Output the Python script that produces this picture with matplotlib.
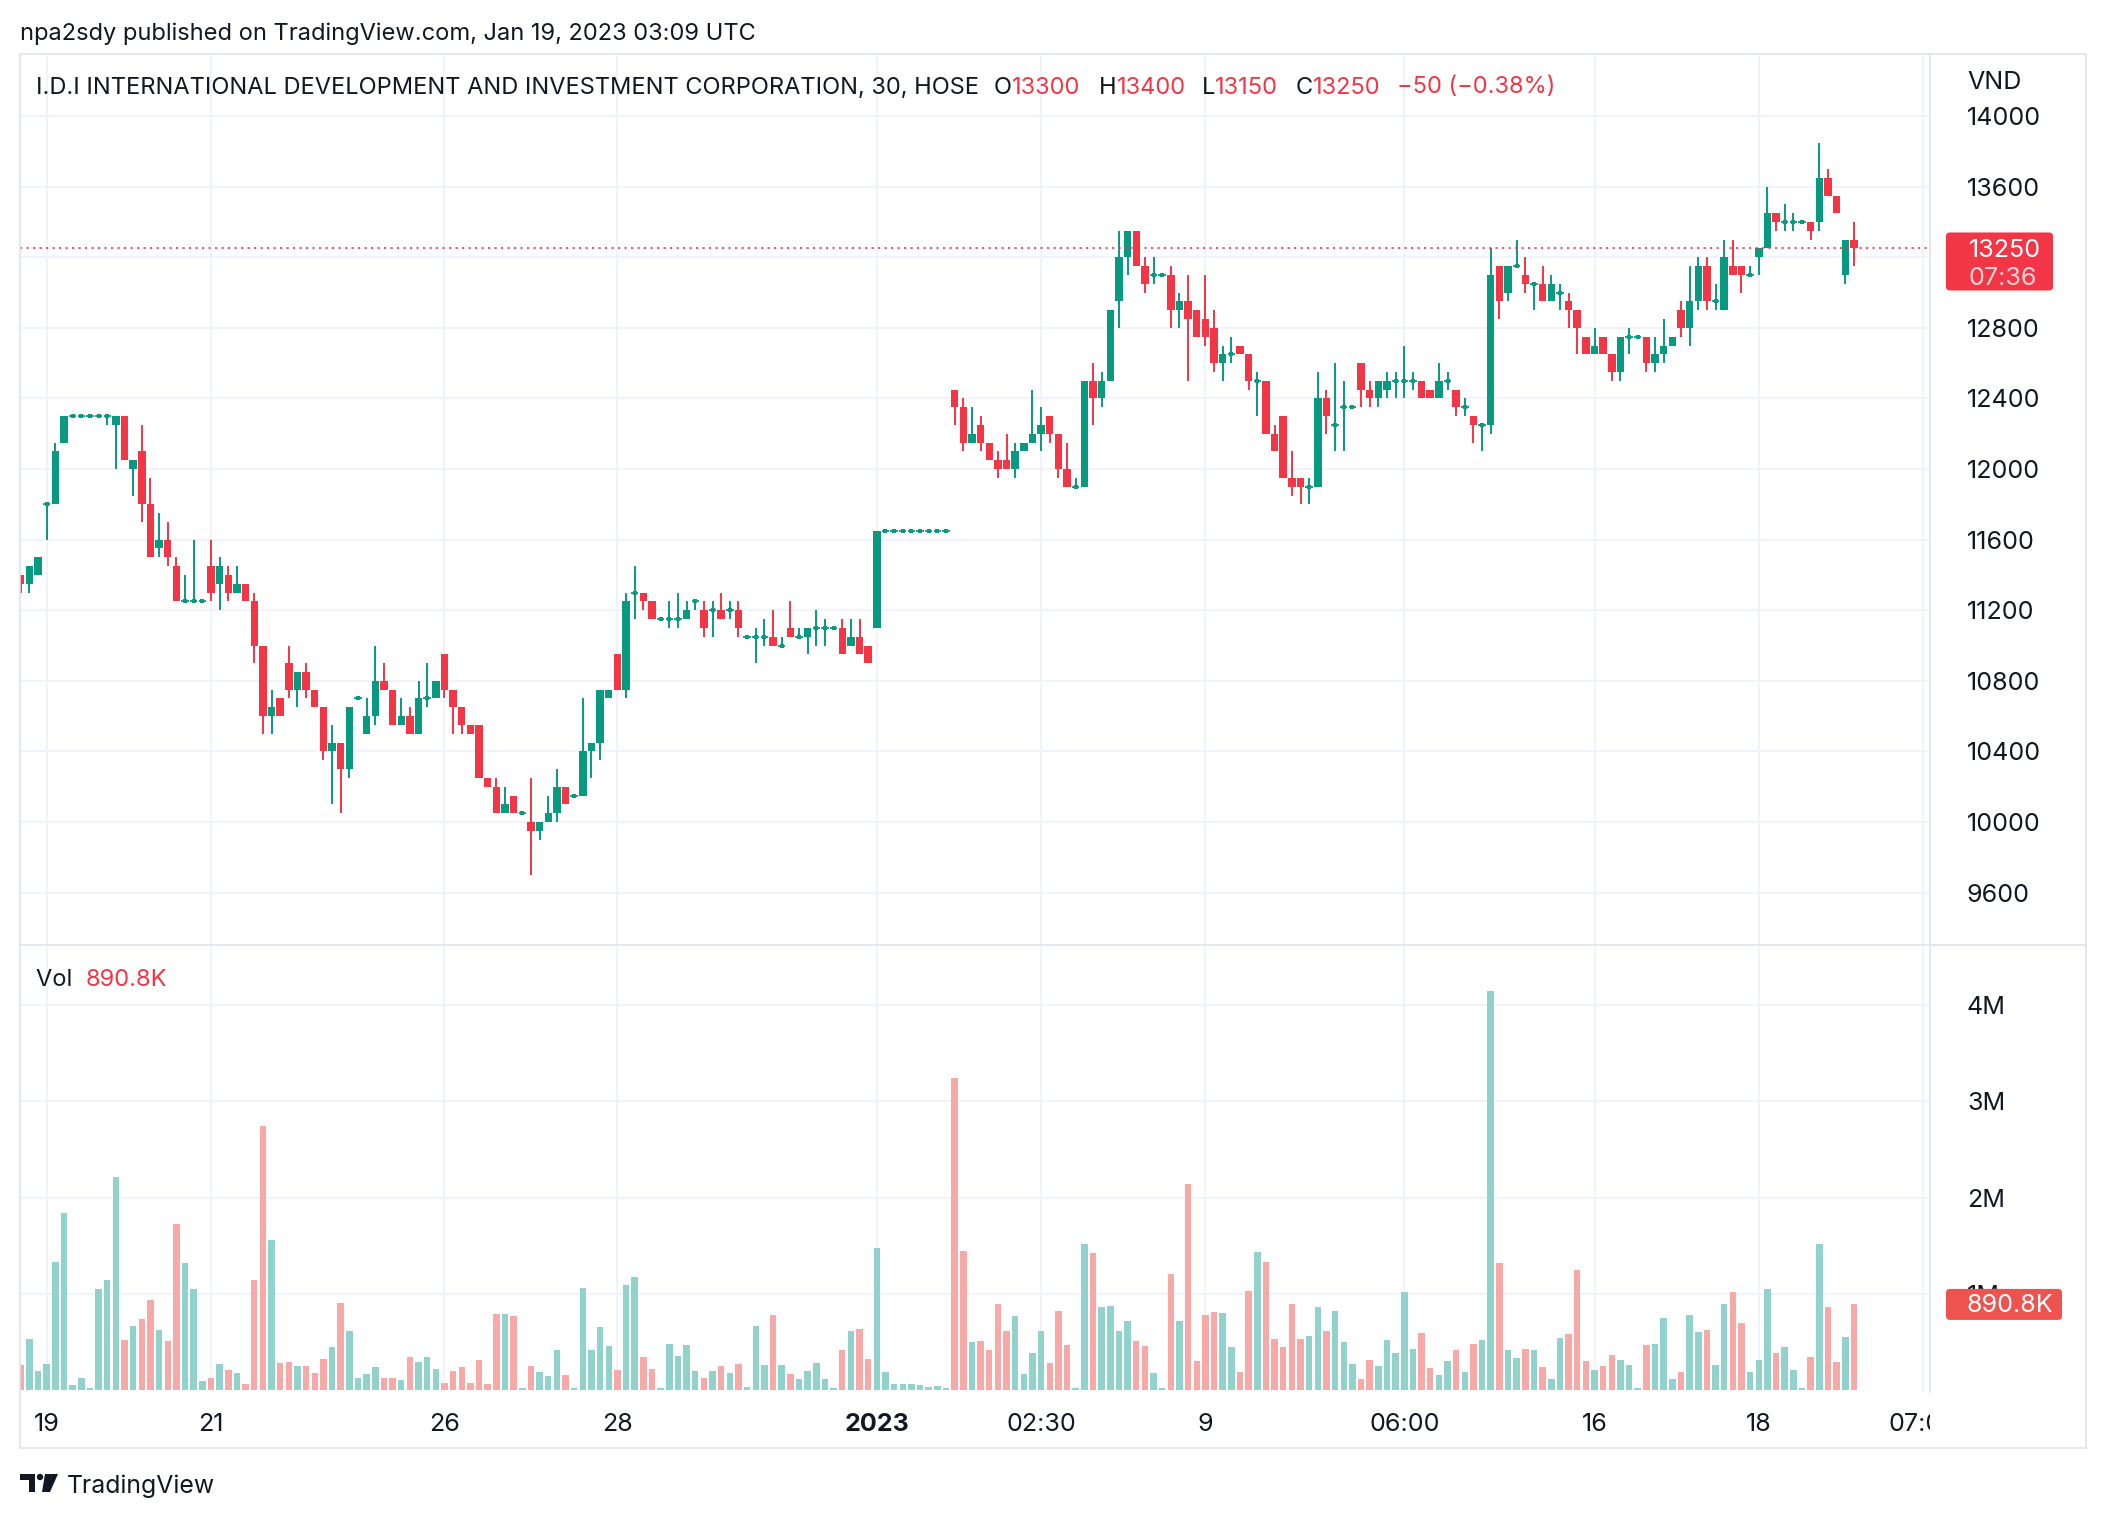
import numpy as np
import matplotlib
matplotlib.use("Agg")
import matplotlib.pyplot as plt
import matplotlib.transforms as mtransforms
from matplotlib.patches import Rectangle, FancyBboxPatch, Polygon, Circle

plt.rcParams['font.family'] = ['Inter', 'DejaVu Sans']

# 30-minute bars, prices in VND
opens = [
    11400, 11350, 11400, 11800, 11800, 12150, 12300, 12300, 12300, 12300,
    12300, 12250, 12300, 12000, 12100, 11800, 11550, 11600, 11450, 11250,
    11250, 11250, 11450, 11350, 11400, 11300, 11350, 11250, 11000, 10600,
    10700, 10900, 10750, 10850, 10750, 10650, 10400, 10450, 10300, 10700,
    10500, 10600, 10800, 10750, 10550, 10600, 10500, 10700, 10700, 10950,
    10750, 10650, 10550, 10550, 10250, 10200, 10050, 10150, 10050, 10000,
    9950, 10000, 10050, 10200, 10150, 10150, 10400, 10450, 10700, 10950,
    10750, 11300, 11300, 11250, 11150, 11150, 11150, 11150, 11250, 11200,
    11200, 11200, 11200, 11200, 11050, 11050, 11050, 11050, 11000, 11100,
    11050, 11050, 11100, 11100, 11100, 11100, 11000, 11050, 11000, 11100,
    11650, 11650, 11650, 11650, 11650, 11650, 11650, 11650, 12450, 12350,
    12150, 12250, 12150, 12050, 12050, 12000, 12100, 12150, 12200, 12300,
    12200, 12000, 11900, 11900, 12500, 12400, 12500, 12950, 13200, 13350,
    13150, 13100, 13100, 13100, 12900, 12950, 12900, 12850, 12800, 12600,
    12650, 12700, 12650, 12500, 12500, 12200, 12300, 11950, 11950, 11900,
    11900, 12400, 12250, 12350, 12350, 12600, 12450, 12400, 12450, 12500,
    12500, 12500, 12500, 12450, 12400, 12500, 12450, 12350, 12300, 12250,
    12250, 13150, 13000, 13150, 13100, 13050, 13050, 12950, 13000, 12950,
    12900, 12750, 12650, 12750, 12650, 12550, 12750, 12750, 12750, 12600,
    12650, 12700, 12900, 12800, 12950, 13150, 12950, 12900, 13150, 13150,
    13100, 13200, 13250, 13450, 13400, 13400, 13400, 13400, 13400, 13650,
    13550, 13100, 13300,
]
highs = [
    11400, 11450, 11500, 11800, 12150, 12300, 12300, 12300, 12300, 12300,
    12300, 12300, 12300, 12050, 12250, 11950, 11750, 11700, 11500, 11400,
    11600, 11250, 11600, 11500, 11450, 11450, 11350, 11300, 11000, 10750,
    10700, 11000, 10850, 10900, 10750, 10650, 10550, 10450, 10650, 10700,
    10700, 11000, 10900, 10750, 10700, 10650, 10800, 10900, 10800, 10950,
    10750, 10650, 10550, 10550, 10250, 10250, 10200, 10150, 10050, 10250,
    10000, 10150, 10300, 10200, 10150, 10700, 10450, 10750, 10750, 10950,
    11300, 11450, 11300, 11250, 11150, 11250, 11300, 11250, 11250, 11250,
    11250, 11300, 11250, 11250, 11050, 11100, 11150, 11200, 11050, 11250,
    11100, 11100, 11200, 11150, 11100, 11150, 11150, 11150, 11000, 11650,
    11650, 11650, 11650, 11650, 11650, 11650, 11650, 11650, 12450, 12400,
    12350, 12300, 12150, 12100, 12200, 12150, 12150, 12450, 12350, 12300,
    12200, 12150, 11950, 12500, 12600, 12550, 12900, 13350, 13350, 13350,
    13200, 13200, 13100, 13150, 13000, 13100, 12900, 13100, 12900, 12700,
    12750, 12700, 12650, 12550, 12500, 12250, 12300, 12100, 11950, 11950,
    12550, 12450, 12600, 12500, 12350, 12600, 12500, 12500, 12550, 12550,
    12700, 12550, 12500, 12450, 12600, 12550, 12450, 12400, 12300, 12250,
    13250, 13150, 13150, 13300, 13200, 13050, 13150, 13100, 13050, 13000,
    12900, 12750, 12800, 12750, 12650, 12750, 12800, 12750, 12750, 12750,
    12850, 12750, 12950, 13150, 13200, 13200, 13050, 13300, 13300, 13150,
    13150, 13250, 13600, 13450, 13500, 13450, 13400, 13400, 13850, 13700,
    13550, 13300, 13400,
]
lows = [
    11300, 11300, 11400, 11600, 11800, 12150, 12300, 12300, 12300, 12300,
    12250, 12000, 12050, 11850, 11700, 11500, 11500, 11450, 11250, 11250,
    11250, 11250, 11250, 11200, 11250, 11300, 11250, 10900, 10500, 10500,
    10600, 10700, 10650, 10700, 10650, 10350, 10100, 10050, 10250, 10700,
    10500, 10550, 10750, 10550, 10550, 10500, 10500, 10650, 10700, 10700,
    10500, 10500, 10500, 10250, 10200, 10050, 10050, 10050, 10050, 9700,
    9900, 10000, 10000, 10100, 10150, 10150, 10250, 10350, 10700, 10750,
    10700, 11150, 11200, 11150, 11150, 11100, 11100, 11150, 11200, 11050,
    11050, 11150, 11150, 11050, 11050, 10900, 11000, 11000, 11000, 11050,
    11050, 10950, 11000, 11000, 11100, 10950, 11000, 10950, 10900, 11100,
    11650, 11650, 11650, 11650, 11650, 11650, 11650, 11650, 12250, 12100,
    12150, 12100, 12050, 11950, 12000, 11950, 12100, 12150, 12100, 12150,
    11950, 11900, 11900, 11900, 12250, 12350, 12500, 12800, 13100, 13150,
    13000, 13050, 13100, 12800, 12800, 12500, 12750, 12700, 12550, 12500,
    12600, 12650, 12450, 12300, 12200, 12100, 11950, 11850, 11800, 11800,
    11900, 12200, 12100, 12100, 12350, 12350, 12350, 12350, 12400, 12400,
    12400, 12450, 12400, 12400, 12400, 12450, 12300, 12300, 12150, 12100,
    12200, 12850, 12950, 13150, 13000, 12900, 12950, 12950, 12900, 12800,
    12650, 12650, 12650, 12650, 12500, 12500, 12650, 12750, 12550, 12550,
    12600, 12700, 12750, 12700, 12900, 12900, 12900, 12900, 13100, 13000,
    13100, 13100, 13250, 13350, 13350, 13350, 13400, 13300, 13350, 13550,
    13450, 13050, 13150,
]
closes = [
    11350, 11450, 11500, 11800, 12100, 12300, 12300, 12300, 12300, 12300,
    12300, 12300, 12050, 12050, 11800, 11500, 11600, 11500, 11250, 11250,
    11250, 11250, 11300, 11450, 11300, 11350, 11250, 11000, 10600, 10650,
    10600, 10750, 10850, 10750, 10650, 10400, 10450, 10300, 10650, 10700,
    10600, 10800, 10750, 10550, 10600, 10500, 10700, 10700, 10800, 10750,
    10650, 10550, 10500, 10250, 10200, 10050, 10100, 10050, 10050, 9950,
    10000, 10050, 10200, 10100, 10150, 10400, 10450, 10750, 10750, 10750,
    11250, 11300, 11250, 11150, 11150, 11150, 11150, 11200, 11250, 11100,
    11200, 11150, 11200, 11100, 11050, 11050, 11050, 11000, 11000, 11050,
    11050, 11100, 11100, 11100, 11100, 10950, 11050, 10950, 10900, 11650,
    11650, 11650, 11650, 11650, 11650, 11650, 11650, 11650, 12350, 12150,
    12200, 12150, 12050, 12000, 12000, 12100, 12150, 12200, 12250, 12200,
    12000, 11900, 11900, 12500, 12400, 12500, 12900, 13200, 13350, 13150,
    13050, 13100, 13100, 12900, 12950, 12850, 12750, 12750, 12600, 12650,
    12650, 12650, 12500, 12500, 12200, 12100, 11950, 11900, 11900, 11900,
    12400, 12300, 12250, 12350, 12350, 12450, 12400, 12500, 12500, 12500,
    12500, 12500, 12400, 12400, 12500, 12500, 12350, 12350, 12250, 12250,
    13100, 12950, 13150, 13150, 13050, 13050, 12950, 13050, 13000, 12900,
    12800, 12650, 12700, 12650, 12550, 12750, 12750, 12750, 12600, 12650,
    12700, 12750, 12800, 12950, 13150, 12950, 12950, 13200, 13100, 13100,
    13100, 13250, 13450, 13400, 13400, 13400, 13400, 13350, 13650, 13550,
    13450, 13300, 13250,
]
# volume in millions of shares
volumes = [
    0.26, 0.53, 0.20, 0.27, 1.33, 1.84, 0.05, 0.13, 0.02, 1.05,
    1.14, 2.21, 0.52, 0.67, 0.74, 0.94, 0.63, 0.51, 1.73, 1.32,
    1.05, 0.10, 0.13, 0.27, 0.21, 0.18, 0.07, 1.14, 2.74, 1.56,
    0.28, 0.29, 0.25, 0.25, 0.18, 0.32, 0.45, 0.91, 0.62, 0.13,
    0.17, 0.24, 0.13, 0.13, 0.11, 0.34, 0.29, 0.35, 0.22, 0.08,
    0.20, 0.24, 0.08, 0.31, 0.06, 0.79, 0.79, 0.77, 0.02, 0.25,
    0.19, 0.15, 0.42, 0.16, 0.02, 1.06, 0.42, 0.66, 0.46, 0.21,
    1.09, 1.18, 0.34, 0.22, 0.02, 0.48, 0.36, 0.47, 0.20, 0.13,
    0.20, 0.25, 0.18, 0.27, 0.03, 0.67, 0.26, 0.78, 0.26, 0.17,
    0.12, 0.20, 0.28, 0.12, 0.02, 0.42, 0.62, 0.64, 0.32, 1.48,
    0.19, 0.07, 0.06, 0.07, 0.05, 0.03, 0.04, 0.02, 3.24, 1.45,
    0.50, 0.51, 0.42, 0.90, 0.61, 0.77, 0.17, 0.39, 0.61, 0.28,
    0.82, 0.47, 0.02, 1.52, 1.42, 0.86, 0.87, 0.62, 0.72, 0.51,
    0.46, 0.18, 0.02, 1.21, 0.72, 2.14, 0.30, 0.78, 0.81, 0.80,
    0.45, 0.19, 1.03, 1.43, 1.33, 0.53, 0.45, 0.90, 0.53, 0.56,
    0.86, 0.61, 0.82, 0.50, 0.27, 0.12, 0.31, 0.25, 0.52, 0.39,
    1.02, 0.43, 0.59, 0.23, 0.16, 0.30, 0.42, 0.19, 0.48, 0.52,
    4.14, 1.32, 0.42, 0.33, 0.43, 0.42, 0.24, 0.12, 0.54, 0.58,
    1.25, 0.30, 0.21, 0.25, 0.37, 0.31, 0.26, 0.02, 0.47, 0.48,
    0.75, 0.12, 0.19, 0.78, 0.60, 0.63, 0.26, 0.89, 1.02, 0.70,
    0.19, 0.31, 1.05, 0.39, 0.45, 0.21, 0.02, 0.34, 1.52, 0.86,
    0.29, 0.55, 0.8908,
]

time_ticks = [3, 22, 49, 69, 99, 118, 137, 160, 182, 201, 220]
time_labels = ['19', '21', '26', '28', '2023', '02:30', '9', '06:00', '16', '18', '07:00']
price_ticks = [9600, 10000, 10400, 10800, 11200, 11600, 12000, 12400, 12800, 13200, 13600, 14000]
vol_ticks = [1, 2, 3, 4]

W, H = 2106, 1518
UP, DOWN = '#089981', '#F23645'
UP_VOL, DOWN_VOL = '#92D2CC', '#F7A9A7'
TEXT = '#131722'
GRID = '#F0F3FA'
BORDER = '#E0E3EB'
DY = 2.5  # small downward nudge for overlay texts

fig = plt.figure(figsize=(W / 100, H / 100), dpi=100)
fig.patch.set_facecolor('white')
renderer = fig.canvas.get_renderer()


def box(l, t, r, b):
    return [l / W, 1 - b / H, (r - l) / W, (b - t) / H]


def fit(s, width, **kw):
    # font size that gives string s the wanted pixel width
    t = fig.text(0, 0, s, fontsize=20, **kw)
    w = t.get_window_extent(renderer).width
    t.remove()
    return 20 * width / w


axis_fs = fit('14000', 74)
title_fs = fit('I.D.I INTERNATIONAL DEVELOPMENT AND INVESTMENT CORPORATION, 30, HOSE', 944)
credit_fs = fit('npa2sdy published on TradingView.com, Jan 19, 2023 03:09 UTC', 736)

ax = fig.add_axes(box(20, 54, 1930, 945))
axv = fig.add_axes(box(20, 945, 1930, 1392), sharex=ax)

o, h, l, c = map(np.array, (opens, highs, lows, closes))
vol = np.array(volumes)
x = np.arange(len(o))
up = c >= o
col = np.where(up, UP, DOWN)
flat = o == c

# candles
ax.vlines(x, np.minimum(l, np.minimum(o, c)), np.maximum(h, np.maximum(o, c)),
          colors=col, lw=1.4, zorder=3)
ax.bar(x[~flat], np.abs(c - o)[~flat], bottom=np.minimum(o, c)[~flat], width=0.86,
       color=col[~flat], linewidth=0, zorder=4)
ax.hlines(c[flat], x[flat] - 0.43, x[flat] + 0.43, colors=col[flat], lw=1.3, zorder=4)
ax.plot(x[flat], c[flat], 's', ms=3.2, mew=0, color=UP, zorder=5)

# volume
axv.bar(x, vol, width=0.75, color=np.where(up, UP_VOL, DOWN_VOL), linewidth=0, zorder=3)

ax.set_xlim(-0.09, 220.8)
ax.set_ylim(9303, 14352)
axv.set_ylim(-0.018, 4.62)

for a in (ax, axv):
    for s in a.spines.values():
        s.set_visible(False)
    for t in time_ticks:
        a.axvline(t, color=GRID, lw=1.4, zorder=0)
for p in price_ticks:
    ax.axhline(p, color=GRID, lw=1.4, zorder=0)
for v in vol_ticks:
    axv.axhline(v, color=GRID, lw=1.4, zorder=0)

ax.axhline(c[-1], color=DOWN, lw=1.2, ls=(0, (1.3, 2.6)), zorder=6)

ax.yaxis.tick_right()
ax.set_yticks(price_ticks)
# the 13200 label sits under the last-price tag, so it is left blank
ax.set_yticklabels(['' if p == 13200 else str(p) for p in price_ticks])
axv.yaxis.tick_right()
axv.set_yticks(vol_ticks)
axv.set_yticklabels([f'{v}M' for v in vol_ticks])
for a in (ax, axv):
    a.tick_params(axis='y', length=0, pad=26.6, labelsize=axis_fs, labelcolor=TEXT)
    a.tick_params(axis='x', bottom=False, labelbottom=False)

# overlay in pixel coordinates (origin top-left)
over = fig.add_axes([0, 0, 1, 1], zorder=10)
over.set_xlim(0, W)
over.set_ylim(H, 0)
over.axis('off')

over.add_patch(Rectangle((20, 54), 2066, 1394, fill=False, ec=BORDER, lw=1.2))
over.plot([20, 2086], [945, 945], color=BORDER, lw=1.2)
over.plot([1930, 1930], [54, 1392], color=BORDER, lw=1.2)

# time labels
xform = mtransforms.blended_transform_factory(axv.transData, over.transData)
clip = mtransforms.Bbox.from_extents(20, 0, 1930, H)
for t, s in zip(time_ticks, time_labels):
    txt = over.text(t, 1422 + DY, s, transform=xform, ha='center', va='center',
                    fontsize=axis_fs, color=TEXT,
                    fontweight='bold' if s == '2023' else 'normal')
    txt.set_clip_box(clip)
    txt.set_clip_on(True)

# header texts
over.text(20, 31 + DY, 'npa2sdy published on TradingView.com, Jan 19, 2023 03:09 UTC',
          fontsize=credit_fs, color=TEXT, va='center')
over.text(36, 85 + DY, 'I.D.I INTERNATIONAL DEVELOPMENT AND INVESTMENT CORPORATION, 30, HOSE',
          fontsize=title_fs, color=TEXT, va='center')


def pair(x0, y, label, value, fs):
    t = over.text(x0, y, label, fontsize=fs, color=TEXT, va='center')
    w = t.get_window_extent(renderer).width
    over.text(x0 + w, y, value, fontsize=fs, color=DOWN, va='center')


chg = c[-1] - c[-2]
pct = chg / c[-2] * 100
pair(994, 85 + DY, 'O', f'{o[-1]}', title_fs)
pair(1099, 85 + DY, 'H', f'{h[-1]}', title_fs)
pair(1202, 85 + DY, 'L', f'{l[-1]}', title_fs)
pair(1296, 85 + DY, 'C', f'{c[-1]}', title_fs)
over.text(1397, 85 + DY, f'\u2212{abs(chg)} (\u2212{abs(pct):.2f}%)', fontsize=title_fs,
          color=DOWN, va='center')
pair(36, 978 + DY, 'Vol  ', f'{vol[-1] * 1000:.1f}K', title_fs)
over.text(1967, 80 + DY, 'VND', fontsize=axis_fs, color=TEXT, va='center')

# last price / volume tags
yp = H - ax.transData.transform((0, c[-1]))[1]
over.add_patch(FancyBboxPatch((1946, yp - 16), 107, 58,
                              boxstyle='round,pad=0,rounding_size=4', fc=DOWN, ec='none'))
over.text(1969, yp + DY, f'{c[-1]}', fontsize=axis_fs, color='white', va='center')
over.text(1969, yp + 28 + DY, '07:36', fontsize=axis_fs, color='#FCD3D7', va='center')

yv = H - axv.transData.transform((0, vol[-1]))[1]
over.add_patch(FancyBboxPatch((1946, yv - 15.5), 116, 31,
                              boxstyle='round,pad=0,rounding_size=4', fc='#EF5350', ec='none'))
over.text(1966, yv + 1, f'{vol[-1] * 1000:.1f}K', fontsize=axis_fs, color='white', va='center')

# TradingView logo
over.add_patch(Polygon([(20, 1474), (35, 1474), (35, 1492), (29, 1492), (29, 1480), (20, 1480)],
                       closed=True, fc=TEXT, ec='none'))
over.add_patch(Circle((40, 1477), 3.2, fc=TEXT, ec='none'))
over.add_patch(Polygon([(45, 1474), (58, 1474), (50, 1492), (42, 1492)],
                       closed=True, fc=TEXT, ec='none'))
over.text(67, 1484 + DY, 'TradingView', fontsize=fit('TradingView', 148), color=TEXT, va='center')

fig.savefig('out.png', dpi=100, facecolor='white')
